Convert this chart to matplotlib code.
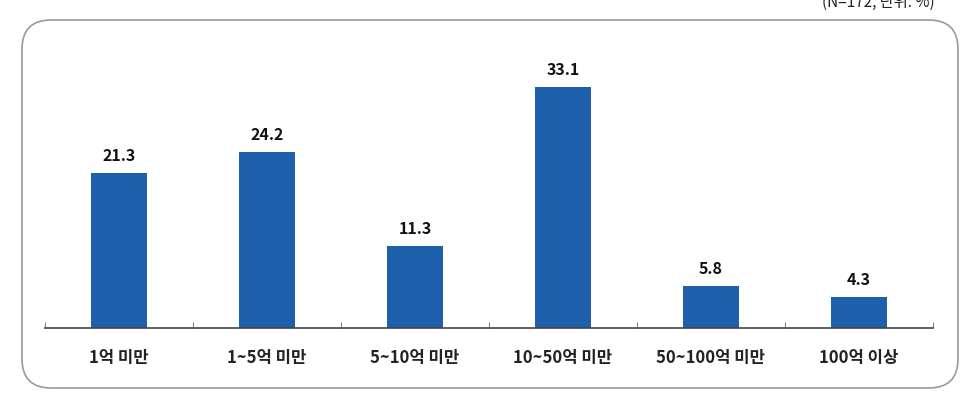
import matplotlib
matplotlib.use('Agg')
import matplotlib.pyplot as plt
from matplotlib.patches import FancyBboxPatch
import numpy as np

plt.rcParams['font.family'] = ['Noto Sans CJK KR', 'DejaVu Sans']

# data
categories = ['1억 미만', '1~5억 미만', '5~10억 미만', '10~50억 미만', '50~100억 미만', '100억 이상']
values = [21.3, 24.2, 11.3, 33.1, 5.8, 4.3]
note = '(N=172, 단위: %)'

fig = plt.figure(figsize=(9.7, 4.0), dpi=100)

# rounded frame round the chart
box = FancyBboxPatch((22/970, 12/400), 936/970, 368/400,
                     boxstyle='round,pad=0,rounding_size=0.03',
                     transform=fig.transFigure, facecolor='white',
                     edgecolor='#9a9a9a', linewidth=1.2, mutation_aspect=970/400,
                     zorder=-5)
fig.patches.append(box)

ax = fig.add_axes([45/970, 1 - 328/400, 888/970, 288/400])
ax.set_zorder(2)
x = np.arange(len(values))
ax.bar(x, values, width=0.38, color='#1f60ad', zorder=2)
for xi, v in zip(x, values):
    ax.text(xi, v + 1.2, f'{v:.1f}', ha='center', va='bottom',
            fontsize=11.5, fontweight='bold', color='#111111')

ax.set_xlim(-0.5, len(values) - 0.5)
ax.set_ylim(0, 39.5)
for s in ['top', 'right', 'left']:
    ax.spines[s].set_visible(False)
ax.spines['bottom'].set_color('#444444')
ax.spines['bottom'].set_linewidth(1.2)
ax.set_yticks([])
ax.set_xticks(x)
ax.set_xticklabels(categories, fontsize=12, fontweight='bold', color='#222222')
ax.tick_params(axis='x', length=0, pad=15)
# small boundary ticks
ax.set_xticks(np.arange(-0.5, len(values) + 0.5, 1), minor=True)
ax.tick_params(axis='x', which='minor', direction='in', length=4, color='#666666')
ax.patch.set_alpha(0)

fig.text(935/970, 1 - 2/400, note, ha='right', va='center', fontsize=11, color='#222222')

fig.savefig('out.png', dpi=100)
